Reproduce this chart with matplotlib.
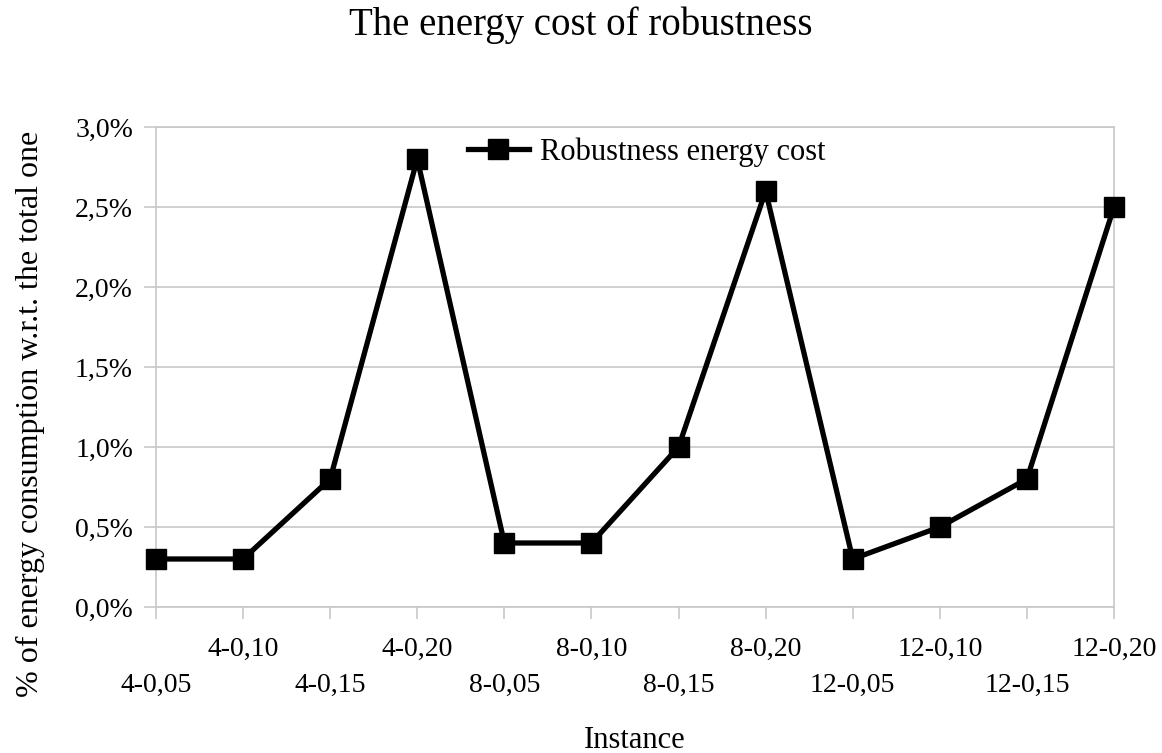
import matplotlib
matplotlib.use("Agg")
import matplotlib.pyplot as plt
from matplotlib.ticker import FuncFormatter

instances = ["4-0,05", "4-0,10", "4-0,15", "4-0,20",
             "8-0,05", "8-0,10", "8-0,15", "8-0,20",
             "12-0,05", "12-0,10", "12-0,15", "12-0,20"]
robustness_cost = [0.3, 0.3, 0.8, 2.8, 0.4, 0.4, 1.0, 2.6, 0.3, 0.5, 0.8, 2.5]
yticks = [0.0, 0.5, 1.0, 1.5, 2.0, 2.5, 3.0]

plt.rcParams['font.family'] = ['Liberation Serif', 'DejaVu Serif']

fig = plt.figure(figsize=(11.62, 7.53), dpi=100)
ax = fig.add_axes([156/1162, 1 - 607/753, (1114-156)/1162, (607-127)/753])

x = list(range(len(instances)))
ax.plot(x, robustness_cost, color='black', linewidth=3.8, marker='s',
        markersize=14, markerfacecolor='black', label='Robustness energy cost',
        clip_on=False, zorder=5)

ax.set_xlim(0, len(instances) - 1)
ax.set_ylim(0, 3.0)
ax.set_yticks(yticks)
ax.yaxis.set_major_formatter(FuncFormatter(lambda v, p: f"{v:.1f}".replace('.', ',') + "%"))
ax.set_xticks(x)
ax.set_xticklabels(instances)
ax.grid(axis='y', color='#c8c8c8', linewidth=1.2)
ax.set_axisbelow(True)
for s in ax.spines.values():
    s.set_color('#c8c8c8')
    s.set_linewidth(1.2)

ax.tick_params(axis='both', direction='out', length=8.5, width=1.2, color='#c8c8c8',
               labelsize=20, labelcolor='black')
ax.tick_params(axis='y', pad=8)
for i, t in enumerate(ax.xaxis.get_major_ticks()):
    t.set_pad(13 if i % 2 == 1 else 39)

ax.set_ylabel("% of energy consumption w.r.t. the total one", fontsize=23)
ax.yaxis.set_label_coords((30 - 156) / 958, (607 - 414) / 480)
ax.yaxis.label.set_va('center')
ax.set_xlabel("Instance", fontsize=22)
ax.xaxis.set_label_coords(0.5, (607 - 740) / 480)
ax.xaxis.label.set_va('center')
fig.text(0.5, 1 - 25 / 753, "The energy cost of robustness", fontsize=28,
         ha='center', va='center')

ax.legend(loc='center', bbox_to_anchor=(646.5 / 1162, 1 - 152 / 753),
          bbox_transform=fig.transFigure, frameon=False, fontsize=22,
          handlelength=2.0, handletextpad=0.35)

fig.savefig("out.png", dpi=100)
